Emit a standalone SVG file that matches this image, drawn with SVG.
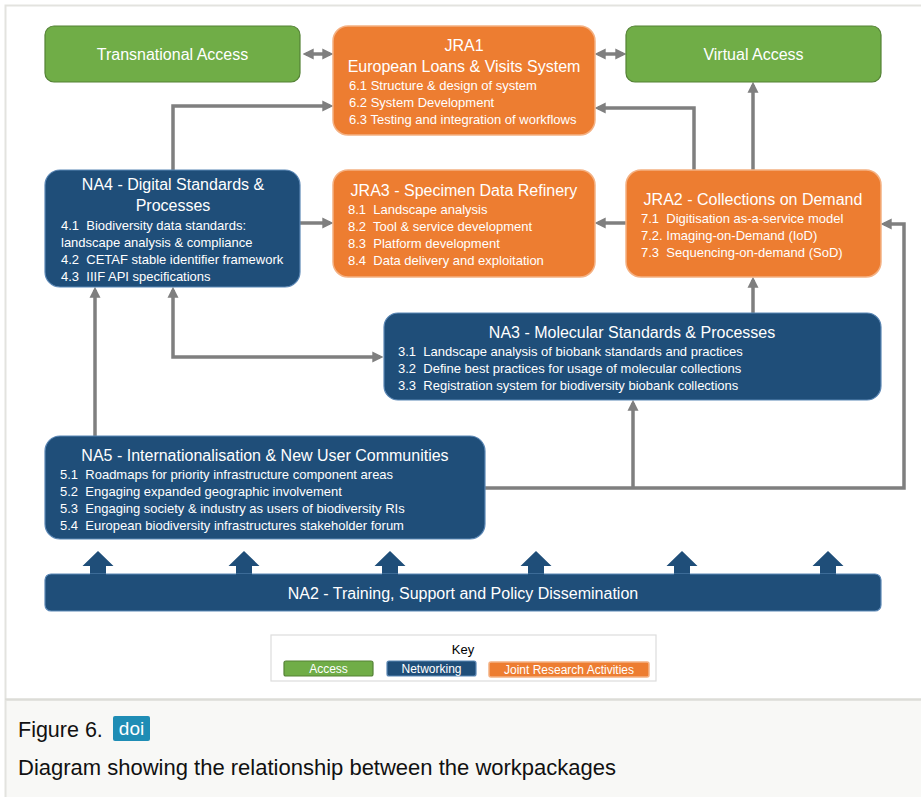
<svg xmlns="http://www.w3.org/2000/svg" width="921" height="797" viewBox="0 0 921 797">
<style>
  text { font-family: "Liberation Sans", Arial, sans-serif; white-space: pre; }
  .t { font-size: 16px; fill: #ffffff; text-anchor: middle; }
  .i { font-size: 13px; fill: #ffffff; }
  .green { fill: #70ad47; stroke: #548235; stroke-width: 1.2; }
  .orange { fill: #ed7d31; stroke: #f4b183; stroke-width: 1.5; }
  .blue { fill: #1f4e79; stroke: #5b87b5; stroke-width: 1.2; }
  .conn { fill: none; stroke: #7f7f7f; stroke-width: 3.5; }
  .k { font-size: 12px; fill: #ffffff; text-anchor: middle; }
</style>
<defs>
  <marker id="ah" viewBox="0 0 10 10" refX="7" refY="5" markerWidth="11" markerHeight="12" markerUnits="userSpaceOnUse" orient="auto-start-reverse">
    <path d="M0,0 L10,5 L0,10 Z" fill="#7f7f7f"/>
  </marker>
</defs>
<rect x="0" y="0" width="921" height="797" fill="#ffffff"/>
<!-- figure frame -->
<path d="M5.5,700 V5.5 H921" fill="none" stroke="#e3e3df" stroke-width="2"/>
<!-- caption panel -->
<rect x="5" y="700" width="916" height="97" fill="#f8f8f6"/>
<line x1="5" y1="699.5" x2="921" y2="699.5" stroke="#dcdcd7" stroke-width="2.5"/>
<line x1="5.5" y1="700" x2="5.5" y2="797" stroke="#e3e3df" stroke-width="2"/>

<!-- connectors -->
<g id="connectors">
  <path class="conn" d="M306,54 H330" marker-start="url(#ah)" marker-end="url(#ah)"/>
  <path class="conn" d="M598,54 H623" marker-start="url(#ah)" marker-end="url(#ah)"/>
  <path class="conn" d="M173,170 V106 H330" marker-end="url(#ah)"/>
  <path class="conn" d="M694,170 V108 H598" marker-end="url(#ah)"/>
  <path class="conn" d="M753,170 V85" marker-end="url(#ah)"/>
  <path class="conn" d="M300,223 H330" marker-end="url(#ah)"/>
  <path class="conn" d="M626,223 H598" marker-end="url(#ah)"/>
  <path class="conn" d="M753,313 V280" marker-end="url(#ah)"/>
  <path class="conn" d="M485,488 H904 V224 H884" marker-end="url(#ah)"/>
  <path class="conn" d="M633,488 V403" marker-end="url(#ah)"/>
  <path class="conn" d="M95,436 V290" marker-end="url(#ah)"/>
  <path class="conn" d="M173,290 V357 H380" marker-start="url(#ah)" marker-end="url(#ah)"/>
</g>

<g id="transnational-access">
  <rect class="green" x="45" y="26" width="255" height="56" rx="9"/>
  <text class="t" x="172.5" y="60">Transnational Access</text>
</g>
<g id="virtual-access">
  <rect class="green" x="626" y="26" width="255" height="56" rx="9"/>
  <text class="t" x="753.5" y="60">Virtual Access</text>
</g>
<g id="jra1">
  <rect class="orange" x="333" y="26" width="262" height="109" rx="15"/>
  <text class="t" x="464" y="51">JRA1</text>
  <text class="t" x="464" y="72">European Loans &amp; Visits System</text>
  <text class="i" x="349" y="90">6.1 Structure &amp; design of system</text>
  <text class="i" x="349" y="107">6.2 System Development</text>
  <text class="i" x="349" y="124">6.3 Testing and integration of workflows</text>
</g>
<g id="na4">
  <rect class="blue" x="45" y="170" width="255" height="117" rx="15"/>
  <text class="t" x="173" y="190">NA4 - Digital Standards &amp;</text>
  <text class="t" x="173" y="211">Processes</text>
  <text class="i" x="61" y="230">4.1  Biodiversity data standards:</text>
  <text class="i" x="61" y="247">landscape analysis &amp; compliance</text>
  <text class="i" x="61" y="264">4.2  CETAF stable identifier framework</text>
  <text class="i" x="61" y="281">4.3  IIIF API specifications</text>
</g>
<g id="jra3">
  <rect class="orange" x="333" y="170" width="262" height="107" rx="15"/>
  <text class="t" x="464" y="196">JRA3 - Specimen Data Refinery</text>
  <text class="i" x="348" y="214">8.1  Landscape analysis</text>
  <text class="i" x="348" y="231">8.2  Tool &amp; service development</text>
  <text class="i" x="348" y="248">8.3  Platform development</text>
  <text class="i" x="348" y="265">8.4  Data delivery and exploitation</text>
</g>
<g id="jra2">
  <rect class="orange" x="626" y="170" width="255" height="107" rx="15"/>
  <text class="t" x="753" y="205">JRA2 - Collections on Demand</text>
  <text class="i" x="641" y="223">7.1  Digitisation as-a-service model</text>
  <text class="i" x="641" y="240">7.2. Imaging-on-Demand (IoD)</text>
  <text class="i" x="641" y="257">7.3  Sequencing-on-demand (SoD)</text>
</g>
<g id="na3">
  <rect class="blue" x="384" y="313" width="497" height="87" rx="14"/>
  <text class="t" x="632" y="338">NA3 - Molecular Standards &amp; Processes</text>
  <text class="i" x="398" y="356">3.1  Landscape analysis of biobank standards and practices</text>
  <text class="i" x="398" y="373">3.2  Define best practices for usage of molecular collections</text>
  <text class="i" x="398" y="390">3.3  Registration system for biodiversity biobank collections</text>
</g>
<g id="na5">
  <rect class="blue" x="45" y="436" width="440" height="103" rx="15"/>
  <text class="t" x="265" y="461">NA5 - Internationalisation &amp; New User Communities</text>
  <text class="i" x="60" y="479">5.1  Roadmaps for priority infrastructure component areas</text>
  <text class="i" x="60" y="496">5.2  Engaging expanded geographic involvement</text>
  <text class="i" x="60" y="513">5.3  Engaging society &amp; industry as users of biodiversity RIs</text>
  <text class="i" x="60" y="530">5.4  European biodiversity infrastructures stakeholder forum</text>
</g>
<g id="na2">
  <g fill="#1f4e79">
    <path d="M98,551 L113.5,566 L106,566 L106,576 L90,576 L90,566 L82.5,566 Z"/>
    <path d="M244,551 L259.5,566 L252,566 L252,576 L236,576 L236,566 L228.5,566 Z"/>
    <path d="M390,551 L405.5,566 L398,566 L398,576 L382,576 L382,566 L374.5,566 Z"/>
    <path d="M536,551 L551.5,566 L544,566 L544,576 L528,576 L528,566 L520.5,566 Z"/>
    <path d="M682,551 L697.5,566 L690,566 L690,576 L674,576 L674,566 L666.5,566 Z"/>
    <path d="M828,551 L843.5,566 L836,566 L836,576 L820,576 L820,566 L812.5,566 Z"/>
  </g>
  <rect class="blue" x="45" y="574" width="836" height="37" rx="6"/>
  <rect x="46" y="575" width="834" height="35" rx="5" fill="#1f4e79"/>
  <path d="M90,575 H106 M236,575 H252 M382,575 H398 M528,575 H544 M674,575 H690 M820,575 H836" stroke="#1f4e79" stroke-width="2"/>
  <text class="t" x="463" y="599">NA2 - Training, Support and Policy Dissemination</text>
</g>
<g id="key">
  <rect x="271" y="635" width="385" height="46" fill="#ffffff" stroke="#dddddd" stroke-width="1.2"/>
  <text x="463" y="654" font-size="13" fill="#000000" text-anchor="middle">Key</text>
  <rect class="green" x="284" y="661" width="89" height="15" rx="2"/>
  <text class="k" x="328.5" y="673">Access</text>
  <rect class="blue" x="387" y="661" width="89" height="15" rx="2"/>
  <text class="k" x="431.5" y="673">Networking</text>
  <rect class="orange" x="489" y="662" width="160" height="15" rx="2"/>
  <text class="k" x="569" y="674">Joint Research Activities</text>
</g>
<g id="caption">
  <text x="18" y="737" font-size="21.5" fill="#111111">Figure 6.</text>
  <rect x="113" y="716" width="37" height="25" rx="2" fill="#1f8db5"/>
  <text x="131.5" y="735" font-size="19" fill="#ffffff" text-anchor="middle">doi</text>
  <text x="18" y="775" font-size="22" fill="#111111">Diagram showing the relationship between the workpackages</text>
</g>
</svg>
